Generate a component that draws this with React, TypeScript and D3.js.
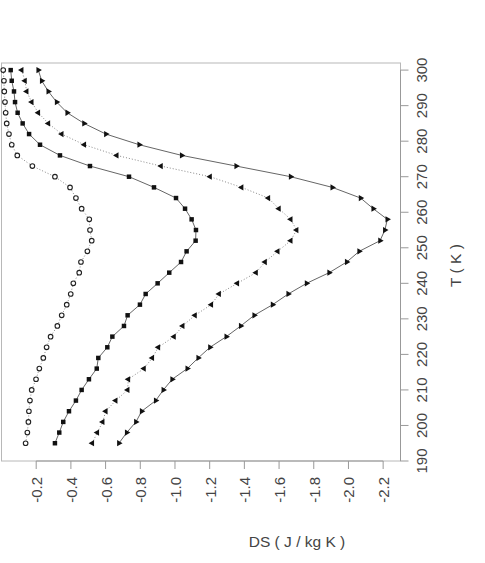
import React from "react";
import * as d3 from "d3";

// temperatures (K), bottom to top
const temps = [195, 198, 201, 204, 207, 210, 213, 216, 219, 222, 225, 228, 231, 234, 237, 240, 243, 246,
  249, 252, 255, 258, 261, 264, 267, 270, 273, 276, 279, 282, 285, 288, 291, 294, 297, 300];

// DS values (J / kg K) per series
const dsCircle = [-0.139, -0.149, -0.155, -0.158, -0.164, -0.174, -0.199, -0.218, -0.241, -0.26, -0.283, -0.322,
  -0.347, -0.376, -0.399, -0.414, -0.448, -0.458, -0.495, -0.52, -0.51, -0.506, -0.462, -0.429, -0.395, -0.308,
  -0.178, -0.091, -0.059, -0.043, -0.03, -0.024, -0.02, -0.016, -0.014, -0.01];
const dsSquare = [-0.308, -0.333, -0.356, -0.389, -0.429, -0.462, -0.504, -0.549, -0.558, -0.61, -0.639, -0.706,
  -0.727, -0.798, -0.831, -0.9, -0.967, -1.035, -1.067, -1.119, -1.121, -1.096, -1.058, -1.006, -0.879, -0.735,
  -0.51, -0.337, -0.222, -0.159, -0.122, -0.093, -0.078, -0.072, -0.059, -0.053];
const dsLeftTri = [-0.523, -0.552, -0.583, -0.601, -0.658, -0.727, -0.731, -0.821, -0.869, -0.904, -0.994, -1.044,
  -1.115, -1.209, -1.254, -1.359, -1.467, -1.519, -1.592, -1.667, -1.701, -1.667, -1.599, -1.538, -1.384, -1.202,
  -0.919, -0.664, -0.477, -0.347, -0.27, -0.212, -0.174, -0.145, -0.135, -0.116];
const dsRightTri = [-0.677, -0.722, -0.775, -0.808, -0.889, -0.933, -0.984, -1.071, -1.134, -1.202, -1.296, -1.379,
  -1.457, -1.563, -1.653, -1.759, -1.889, -1.99, -2.062, -2.182, -2.21, -2.224, -2.143, -2.07, -1.907, -1.667,
  -1.353, -1.039, -0.794, -0.602, -0.476, -0.379, -0.318, -0.27, -0.232, -0.212];

const dsTicks = [-0.2, -0.4, -0.6, -0.8, -1.0, -1.2, -1.4, -1.6, -1.8, -2.0, -2.2];
const tTicks = [190, 200, 210, 220, 230, 240, 250, 260, 270, 280, 290, 300];

const W = 485;
const H = 563;
const left = 1.5, right = 400.5, top = 63, bottom = 461;

const x = d3.scaleLinear().domain([0, -2.3]).range([left, right]);
const y = d3.scaleLinear().domain([190, 302]).range([bottom, top]);

const line = d3.line<[number, number]>().x(d => x(d[0])).y(d => y(d[1]));
const pts = (vals: number[]) => vals.map((v, i) => [v, temps[i]] as [number, number]);

const triPath = d3.symbol().type(d3.symbolTriangle).size(17)() as string;
const sqPath = d3.symbol().type(d3.symbolSquare).size(20)() as string;

const font = "'Liberation Sans', Arial, sans-serif";

export default function App() {
  return (
    <svg width={W} height={H} style={{ position: "absolute", left: 0, top: 0, background: "#fff" }}>
      {/* frame */}
      <rect x={left} y={top} width={right - left} height={bottom - top} fill="none" stroke="#b8b8b8" strokeWidth={1} />

      {/* bottom axis */}
      <line x1={x(-0.2)} x2={x(-2.2)} y1={bottom} y2={bottom} stroke="#999" />
      {dsTicks.map(t => (
        <g key={t}>
          <line x1={x(t)} x2={x(t)} y1={bottom} y2={bottom + 8} stroke="#999" />
          <text transform={`translate(${x(t) + 0.5},${bottom + 16}) rotate(-90)`} textAnchor="end"
            dominantBaseline="central" fontFamily={font} fontSize={15} fill="#444">
            {t.toFixed(1)}
          </text>
        </g>
      ))}
      <text x={297} y={547} textAnchor="middle" fontFamily={font} fontSize={15.5} fill="#444">DS ( J / kg K )</text>

      {/* right axis */}
      <line x1={right} x2={right} y1={y(190)} y2={y(300)} stroke="#999" />
      {tTicks.map(t => (
        <g key={t}>
          <line x1={right} x2={right + 8} y1={y(t)} y2={y(t)} stroke="#999" />
          <text transform={`translate(${right + 21},${y(t)}) rotate(-90)`} textAnchor="middle"
            dominantBaseline="central" fontFamily={font} fontSize={15} fill="#444">
            {t}
          </text>
        </g>
      ))}
      <text transform={`translate(455,${y(245)}) rotate(-90)`} textAnchor="middle" dominantBaseline="central"
        fontFamily={font} fontSize={15.5} fill="#444">T ( K )</text>

      {/* series */}
      <path d={line(pts(dsCircle)) || ""} fill="none" stroke="#888" strokeWidth={1} strokeDasharray="1,2" />
      <path d={line(pts(dsSquare)) || ""} fill="none" stroke="#666" strokeWidth={1} />
      <path d={line(pts(dsLeftTri)) || ""} fill="none" stroke="#888" strokeWidth={1} strokeDasharray="1,2" />
      <path d={line(pts(dsRightTri)) || ""} fill="none" stroke="#666" strokeWidth={1} />

      {pts(dsCircle).map((p, i) => (
        <circle key={"c" + i} cx={x(p[0])} cy={y(p[1])} r={2.3} fill="#fff" stroke="#222" strokeWidth={1.1} />
      ))}
      {pts(dsSquare).map((p, i) => (
        <path key={"s" + i} d={sqPath} transform={`translate(${x(p[0])},${y(p[1])})`} fill="#111" />
      ))}
      {pts(dsLeftTri).map((p, i) => (
        <path key={"l" + i} d={triPath} transform={`translate(${x(p[0])},${y(p[1])}) rotate(-90)`} fill="#111" />
      ))}
      {pts(dsRightTri).map((p, i) => (
        <path key={"r" + i} d={triPath} transform={`translate(${x(p[0])},${y(p[1])}) rotate(90)`} fill="#111" />
      ))}
    </svg>
  );
}
